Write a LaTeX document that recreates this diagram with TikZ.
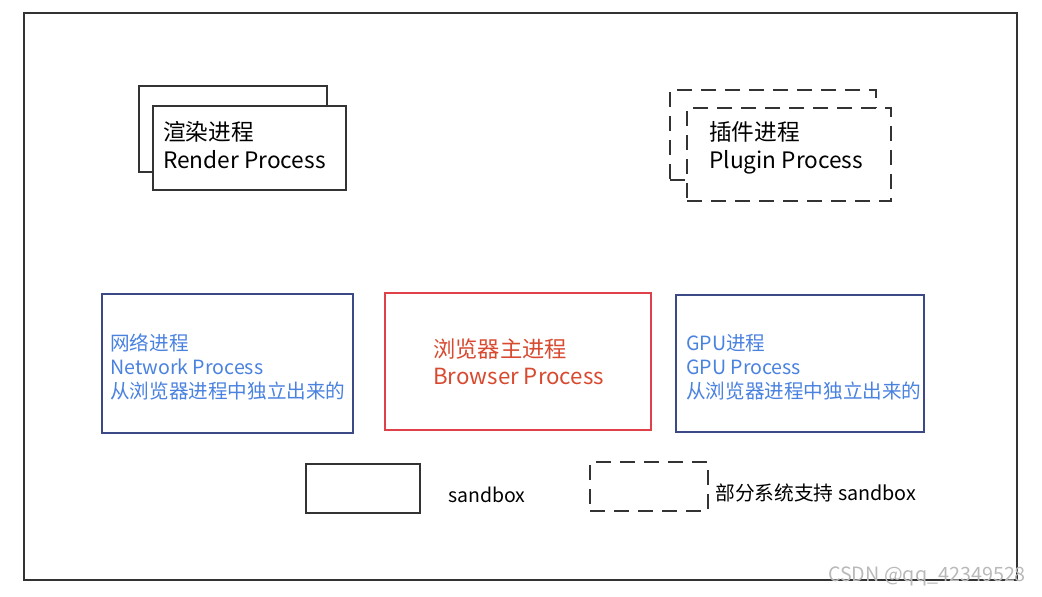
\documentclass[tikz,border=0pt]{standalone}
\usepackage{fontspec}
\setmainfont{Noto Sans CJK SC}
\usetikzlibrary{positioning}
\definecolor{frame}{HTML}{333333}
\definecolor{navy}{HTML}{3B4A86}
\definecolor{sky}{HTML}{4A82E0}
\definecolor{rose}{HTML}{E0404A}
\definecolor{rust}{HTML}{D84A30}
\tikzset{
  box/.style={draw=frame,line width=1.5pt,fill=white,minimum width=#1},
  dashbox/.style={box=#1,dash pattern=on 11pt off 7pt},
  label/.style={anchor=west,align=left,inner sep=0pt,font=\fontsize{17}{21}\selectfont}
}

\begin{document}
\begin{tikzpicture}[x=0.75pt,y=-0.75pt]
  \useasboundingbox (0,0) rectangle (1042,596);
  \draw[frame,line width=1.5pt] (24,13) rectangle (1017,580);
  % render process
  \node[box=188*0.75pt,minimum height=86*0.75pt] (renderback) at (233,129) {};
  \node[box=193*0.75pt,minimum height=84*0.75pt] (render) at (249.5,148) {};
  \node[label] (rendertext) at (163,145) {渲染进程\\Render Process};
  % plugin process
  \node[dashbox=206*0.75pt,minimum height=90*0.75pt] (pluginback) at (773,135) {};
  \node[dashbox=204*0.75pt,minimum height=93*0.75pt] (plugin) at (789,154.5) {};
  \node[label] (plugintext) at (709,147.5) {插件进程\\Plugin Process};
  % row of processes
  \node[box=251*0.75pt,minimum height=139*0.75pt,draw=navy] (network) at (227.5,363.5) {};
  \node[label,text=sky,font=\fontsize{14.7}{18}\selectfont] (networktext) at (110,367)
    {网络进程\\Network Process\\从浏览器进程中独立出来的};
  \node[box=266*0.75pt,minimum height=137*0.75pt,draw=rose] (browser) at (518,361.5) {};
  \node[label,text=rust,font=\fontsize{16.7}{20}\selectfont] (browsertext) at (433,361.5)
    {浏览器主进程\\Browser Process};
  \node[box=248*0.75pt,minimum height=137*0.75pt,draw=navy] (gpu) at (800,363.5) {};
  \node[label,text=sky,font=\fontsize{14.7}{18}\selectfont] (gputext) at (686,367)
    {GPU进程\\GPU Process\\从浏览器进程中独立出来的};
  % legend
  \node[box=114*0.75pt,minimum height=49*0.75pt] (solidkey) at (363,488.5) {};
  \node[label,font=\fontsize{14.6}{16}\selectfont] (solidtext) at (448,495) {sandbox};
  \node[dashbox=118*0.75pt,minimum height=49*0.75pt] (dashkey) at (649,486.5) {};
  \node[label,font=\fontsize{14.8}{16}\selectfont] (dashtext) at (715,493) {部分系统支持 sandbox};
  \node[text=gray!55,font=\fontsize{14.8}{16}\selectfont,inner sep=0pt] (mark) at (927,576) {CSDN @qq\_42349528};
\end{tikzpicture}
\end{document}
